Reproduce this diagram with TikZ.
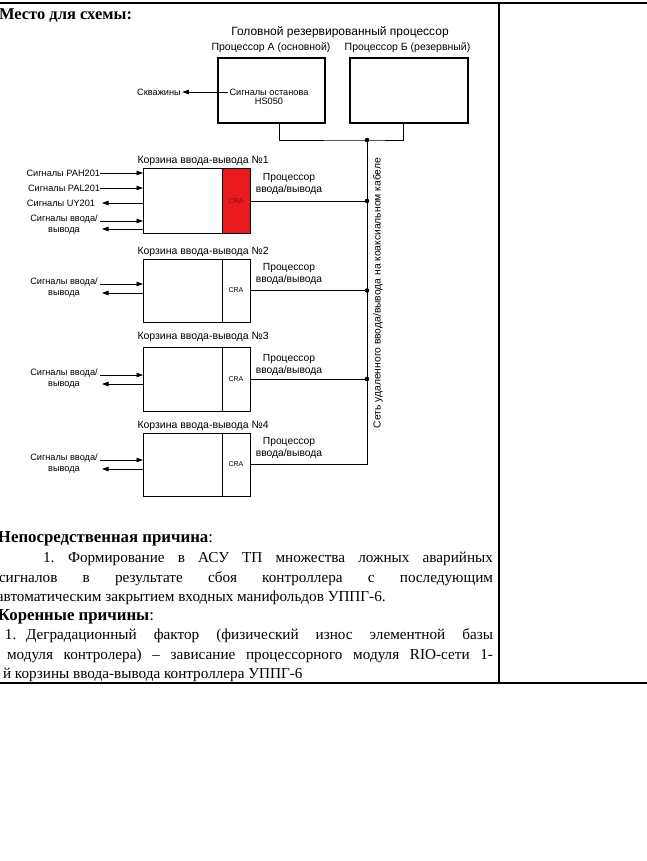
\documentclass[tikz,border=0pt]{standalone}
\usepackage{fontspec}
\setmainfont{Liberation Serif}
\newfontfamily\arial{Liberation Sans}
\usetikzlibrary{arrows.meta,calc}
\definecolor{crared}{RGB}{232,26,30}
\begin{document}
\begin{tikzpicture}[x=1pt,y=-1pt,
  every node/.style={inner sep=0pt,outer sep=0pt},
  thinline/.style={line width=0.8pt},
  rule/.style={line width=1.2pt},
  arr/.style={line width=0.8pt,-{Triangle[length=6.5pt,width=4.5pt]}},
  bigbox/.style={draw,line width=2.8pt,minimum height=65pt},
  basket/.style={draw,line width=1pt,minimum width=107pt},
  crabox/.style={draw,line width=1pt,minimum width=28pt,font=\arial\fontsize{7}{8}\selectfont},
  headtxt/.style={font=\arial\fontsize{12}{14}\selectfont},
  lbl/.style={font=\arial\fontsize{10.5}{12}\selectfont},
  proctxt/.style={font=\arial\fontsize{10.3}{12.5}\selectfont,align=center},
  sig/.style={font=\arial\fontsize{9.2}{11}\selectfont,align=center},
  serif/.style={font=\fontsize{15.2}{18}\selectfont,anchor=base west},
  serifbold/.style={font=\fontsize{16.8}{19}\selectfont,anchor=base west},
  dot/.style={circle,fill=black,minimum size=4.6pt}
]
\useasboundingbox (0,0) rectangle (647,861);
\clip (0,0) rectangle (647,861);

% table rules
\coordinate (tTL) at (0,3);
\coordinate (tTR) at (647,3);
\coordinate (tBL) at (0,683);
\coordinate (tBR) at (647,683);
\coordinate (tMT) at (499,3);
\coordinate (tMB) at (499,683);
\draw[rule] (tTL) -- (tTR);
\draw[rule] (tBL) -- (tBR);
\draw[rule] (tMT) -- (tMB);

% header
\node[serif,font=\bfseries\fontsize{16.5}{19}\selectfont] (hdr) at (-1,19.5) {Место для схемы:};

% head processor
\node[headtxt] (head) at (340,32) {Головной резервированный процессор};
\node[lbl] (procAlbl) at (271,48) {Процессор А (основной)};
\node[lbl] (procBlbl) at (407.5,48) {Процессор Б (резервный)};
\node[bigbox,minimum width=107pt] (procA) at (271.5,90.5) {};
\node[bigbox,minimum width=118pt] (procB) at (409,90.5) {};
\node[sig] (stop) at (269,92) {Сигналы останова};
\node[sig] (hs) at (269,101.5) {HS050};
\node[sig] (skv) at (159,92) {Скважины};
\draw[arr,shorten <=1.5pt,shorten >=1.5pt] (stop.west) -- (skv.east);

\coordinate (aDown) at (279,123);
\coordinate (bDown) at (403,123);
\coordinate (jTop) at (367,140);
\draw[thinline] (aDown) |- (jTop) -| (bDown);

% baskets
\node[basket,minimum height=64pt] (b1) at (196.5,201) {};
\node[crabox,minimum height=64pt,fill=crared,anchor=east] (cra1) at (b1.east) {\color{crared!55!black}CRA};
\node[basket,minimum height=63pt] (b2) at (196.5,290.5) {};
\node[crabox,minimum height=63pt,anchor=east] (cra2) at (b2.east) {CRA};
\node[basket,minimum height=64pt] (b3) at (196.5,379) {};
\node[crabox,minimum height=64pt,anchor=east] (cra3) at (b3.east) {CRA};
\node[basket,minimum height=63pt] (b4) at (196.5,464.5) {};
\node[crabox,minimum height=63pt,anchor=east] (cra4) at (b4.east) {CRA};

\node[lbl,anchor=west] (t1) at (137.5,161) {Корзина ввода-вывода №1};
\node[lbl,anchor=west] (t2) at (137.5,252) {Корзина ввода-вывода №2};
\node[lbl,anchor=west] (t3) at (137.5,337) {Корзина ввода-вывода №3};
\node[lbl,anchor=west] (t4) at (137.5,426) {Корзина ввода-вывода №4};

\node[proctxt] (p1) at (289,184) {Процессор\\ввода/вывода};
\node[proctxt] (p2) at (289,274) {Процессор\\ввода/вывода};
\node[proctxt] (p3) at (289,365) {Процессор\\ввода/вывода};
\node[proctxt] (p4) at (289,448) {Процессор\\ввода/вывода};

% bus
\draw[thinline] (jTop) -- (cra4.east -| jTop);
\draw[thinline] (cra1.east) -- (cra1.east -| jTop);
\draw[thinline] (cra2.east) -- (cra2.east -| jTop);
\draw[thinline] (cra3.east) -- (cra3.east -| jTop);
\draw[thinline] (cra4.east) -- (cra4.east -| jTop);
\node[dot] (d0) at (jTop) {};
\node[dot] (d1) at (cra1.east -| jTop) {};
\node[dot] (d2) at (cra2.east -| jTop) {};
\node[dot] (d3) at (cra3.east -| jTop) {};
\node[proctxt,rotate=90] (net) at (378,293) {Сеть удаленного ввода/вывода на коаксиальном кабеле};

% signals basket 1
\node[sig,anchor=east] (pah) at (100,173) {Сигналы PAH201};
\draw[arr] (pah.east) -- (pah.east -| b1.west);
\node[sig,anchor=east] (pal) at (100,188) {Сигналы PAL201};
\draw[arr] (pal.east) -- (pal.east -| b1.west);
\node[sig,anchor=east] (uy) at (95,203) {Сигналы UY201};
\coordinate (uyEnd) at (102,203);
\draw[arr] (uyEnd -| b1.west) -- (uyEnd);
\node[sig] (io1) at (64,224.5) {Сигналы ввода/\\вывода};
\coordinate (io1i) at (100,221);
\coordinate (io1o) at (102,229);
\draw[arr] (io1i) -- (io1i -| b1.west);
\draw[arr] (io1o -| b1.west) -- (io1o);

% signals basket 2
\node[sig] (io2) at (64,287.5) {Сигналы ввода/\\вывода};
\coordinate (io2i) at (100,284);
\coordinate (io2o) at (102,293);
\draw[arr] (io2i) -- (io2i -| b2.west);
\draw[arr] (io2o -| b2.west) -- (io2o);

% signals basket 3
\node[sig] (io3) at (64,379) {Сигналы ввода/\\вывода};
\coordinate (io3i) at (100,375);
\coordinate (io3o) at (102,384);
\draw[arr] (io3i) -- (io3i -| b3.west);
\draw[arr] (io3o -| b3.west) -- (io3o);

% signals basket 4
\node[sig] (io4) at (64,464) {Сигналы ввода/\\вывода};
\coordinate (io4i) at (100,460);
\coordinate (io4o) at (102,469);
\draw[arr] (io4i) -- (io4i -| b4.west);
\draw[arr] (io4o -| b4.west) -- (io4o);

% text block
\node[serifbold] (l1) at (-2,542) {\bfseries Непосредственная причина\mdseries:};
\node[serif] (l2a) at (43,562) {1.};
\node[serif] (l2b) at (68,562) {\makebox[425pt][s]{Формирование в АСУ ТП множества ложных аварийных}};
\node[serif] (l3) at (-1,582) {\makebox[494pt][s]{сигналов в результате сбоя контроллера с последующим}};
\node[serif] (l4) at (-3,601) {автоматическим закрытием входных манифольдов УППГ-6.};
\node[serifbold] (l5) at (-2,620) {\bfseries Коренные причины\mdseries:};
\node[serif] (l6a) at (5,639) {1.};
\node[serif] (l6b) at (26,639) {\makebox[467pt][s]{Деградационный фактор (физический износ элементной базы}};
\node[serif] (l7) at (7,659) {\makebox[486pt][s]{модуля контролера) – зависание процессорного модуля RIO-сети 1-}};
\node[serif] (l8) at (3,678) {й корзины ввода-вывода контроллера УППГ-6};
\end{tikzpicture}
\end{document}
